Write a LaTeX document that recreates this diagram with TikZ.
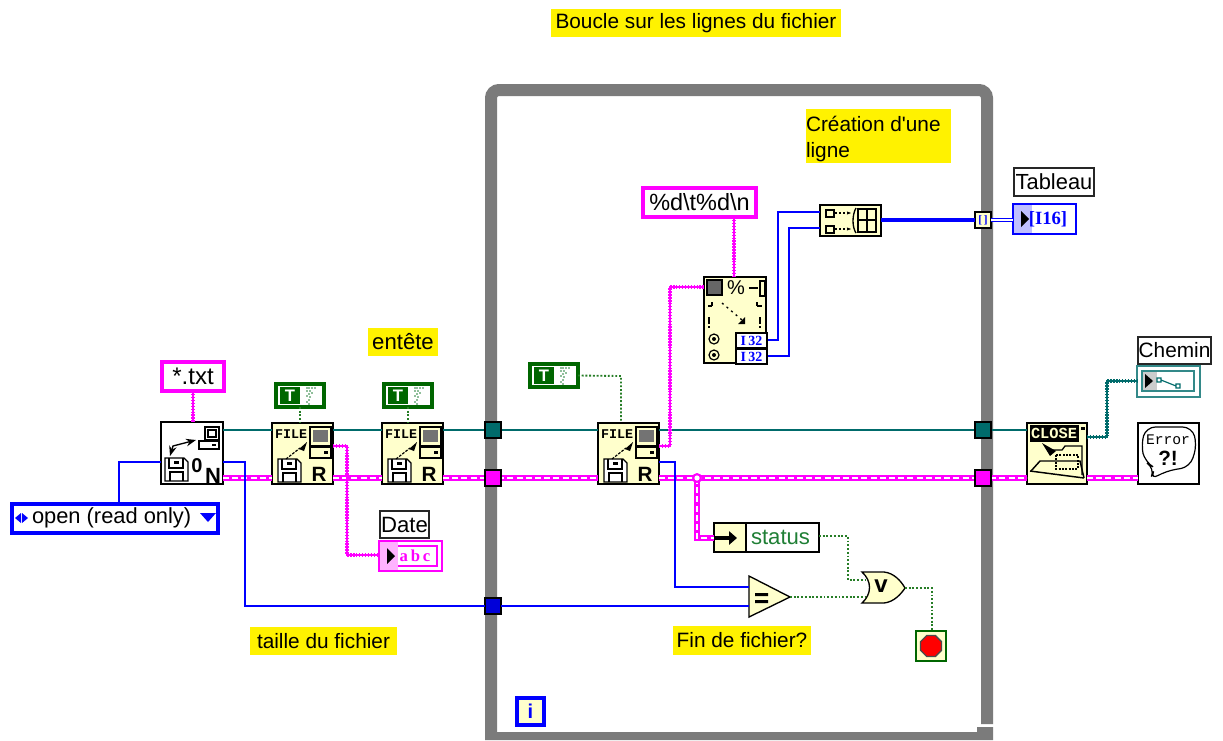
\documentclass[tikz,border=0pt]{standalone}
\usepackage{fontspec}
\setmainfont{Liberation Sans}[Ligatures=TeXOff]
\newfontfamily\serifb{Liberation Serif}
\newfontfamily\monob{Liberation Mono}
\usetikzlibrary{fit,calc,arrows.meta,shapes.geometric}
\definecolor{cream}{HTML}{FFFFCC}
\definecolor{lvteal}{HTML}{006B6B}
\definecolor{lvgreen}{HTML}{006600}
\definecolor{txtgreen}{HTML}{1F7F35}
\definecolor{lvgrey}{HTML}{7B7B7B}
\definecolor{lvmag}{RGB}{255,0,255}
\definecolor{lvblue}{RGB}{0,0,255}
\newcommand{\lbl}{\fontsize{15.6}{19.5}\selectfont}
\tikzset{
  box/.style={inner sep=0pt,outer sep=0pt},
  vi/.style={box,draw=black,line width=1.6pt,fill=cream},
  viw/.style={box,draw=black,line width=1.6pt,fill=white},
  comment/.style={box,fill=yellow},
  caption/.style={box,draw=black!85,line width=1.2pt,fill=white},
  strconst/.style={box,draw=lvmag,line width=3pt,fill=white},
  boolconst/.style={box,draw=lvgreen,line width=3pt,fill=white},
  tun/.style={box,draw=black,line width=1.2pt},
  wteal/.style={draw=lvteal,line width=1.2pt},
  wblue/.style={draw=lvblue,line width=1.4pt},
  wbluethick/.style={draw=lvblue,line width=2.8pt},
  wbluedbl/.style={draw=lvblue,line width=3.2pt,postaction={draw=white,line width=1.1pt}},
  wdot/.style={draw=lvgreen!85!white,line width=1.4pt,dash pattern=on 1.4pt off 1.4pt},
  wstr/.style={draw=lvmag,line width=2.7pt,dash pattern=on 1.1pt off 1.1pt,postaction={draw=lvmag,line width=1.5pt,solid}},
  wtealw/.style={draw=lvteal,line width=2.4pt,dash pattern=on 1.1pt off 1.1pt,postaction={draw=lvteal,line width=1.2pt,solid}},
  wclu/.style={draw=lvmag,line width=4.6pt,postaction={draw=white,line width=1.3pt,dash pattern=on 4.5pt off 2.4pt}},
  glyph/.style={draw=black,line width=.9pt,fill=none},
  floppy/.pic={
    \draw[glyph,fill=white] (0,0) -- (19,0) -- (23,4) -- (23,23) -- (0,23) -- cycle;
    \draw[glyph] (4,0) -- (4,10) -- (18,10) -- (18,0);
    \fill (9,3) rectangle (14,6);
    \draw[glyph] (5,23) -- (5,14) -- (18,14) -- (18,23);
  },
  computer/.pic={
    \draw[glyph] (0,0) rectangle (21,19);
    \fill[black!55] (3,3) rectangle (18,15);
    \draw[glyph] (0,20) rectangle (21,31);
    \fill (14,24) rectangle (18,27);
  },
  readicon/.pic={
    \node[box,font=\monob\bfseries\fontsize{10}{10}\selectfont] (-f) at (19,11) {FILE};
    \path (6,36) pic {floppy};
    \path (38,4) pic {computer};
    \draw[line width=.9pt,dash pattern=on 2pt off 1pt] (14,36) -- (28,25);
    \fill (27,26) -- (35,19) -- (32,28) -- cycle;
    \node[box,font=\bfseries\fontsize{15.5}{16}\selectfont] (-r) at (47,51) {R};
  }
}
\begin{document}
\begin{tikzpicture}[x=.75pt,y=-.75pt]
\useasboundingbox (0,0) rectangle (1223,740);
% rails
\coordinate (rT) at (0,430);
\coordinate (rP) at (0,478);
% loop
\draw[lvgrey,line width=9pt,rounded corners=6pt] (491,738) -- (491,90) -- (987,90) -- (987,724);
\fill[lvgrey] (485,732) rectangle (977,740) (977,727) rectangle (993,740);
% comments
\node[comment,fit={(551,9)(841,37)},label={[font=\lbl]center:Boucle sur les lignes du fichier}] (c1) {};
\node[comment,fit={(806,109)(951,163)}] (c2) {};
\node[box,font=\lbl,align=left,anchor=north west] (c2t) at (806,116) {Création d'une\\ligne};
\node[comment,fit={(368,328)(438,356)},label={[font=\fontsize{16.6}{20}\selectfont]center:entête}] (c3) {};
\node[comment,fit={(250,627)(397,655)},label={[font=\lbl]center:taille du fichier}] (c4) {};
\node[comment,fit={(673,626)(811,655)},label={[font=\lbl]center:Fin de fichier?}] (c5) {};
% constants
\node[strconst,fit={(162,362)(224,391)},label={[font=\fontsize{18}{20}\selectfont]center:*.txt}] (txt) {};
\node[box,draw=lvblue,line width=3pt,fill=white,fit={(12,504)(218,533)}] (enum) {};
\node[box,font=\fontsize{16.4}{19}\selectfont,anchor=west] (enumt) at (32,518) {open (read only)};
\fill[lvblue] (15,518) -- (21,513) -- (21,523) -- cycle (28,518) -- (22,513) -- (22,523) -- cycle;
\fill[lvblue] (200,513) -- (216,513) -- (208,522) -- cycle;
\foreach \n/\xa/\ya in {ta/276/384,tb/384/384,tc/530/364}{
  \node[boolconst,fit={(\xa,\ya)($(\xa,\ya)+(48,23)$)}] (\n) {};
  \fill[lvgreen] ($(\xa,\ya)+(4,3)$) rectangle ($(\xa,\ya)+(24,20)$);
  \node[box,text=white,font=\bfseries\fontsize{12.5}{13}\selectfont] at ($(\xa,\ya)+(14,11.5)$) {T};
  \foreach \dx/\dy in {31/4,33/4,36/4,39/4,31/7,34/7,36/9,33/10,31/12,34/13,33/16,31/18,33/20}
    \fill[txtgreen] ($(\xa,\ya)+(\dx,\dy)$) circle[radius=.9];
}
\node[strconst,line width=3.6pt,fit={(643,188)(756,217)},label={[font=\fontsize{17.6}{20}\selectfont]center:\%d\textbackslash t\%d\textbackslash n}] (fmt) {};
% function nodes
\node[viw,fit={(161,422)(223,484)}] (open) {};
\node[vi,fit={(272,423)(333,484)}] (r1) {};
\node[vi,fit={(382,423)(443,484)}] (r2) {};
\node[vi,fit={(598,423)(659,484)}] (r3) {};
\node[vi,fit={(704,277)(766,363)}] (scan) {};
\node[vi,fit={(820,205)(881,236)}] (build) {};
\node[vi,fit={(1027,423)(1087,484)}] (close) {};
\node[viw,fit={(1138,423)(1199,484)}] (err) {};
% wires
\coordinate (e1) at (119,462);
\draw[wblue] (open.west |- e1) -| (enum.north -| e1);
\draw[wstr] (txt.south) -- (txt.south |- open.north);
\draw[wteal] (open.east |- rT) -- (r1.west |- rT);
\draw[wteal] (r1.east |- rT) -- (r2.west |- rT);
\draw[wteal] (r2.east |- rT) -- (r3.west |- rT);
\draw[wteal] (r3.east |- rT) -- (close.west |- rT);
\draw[wclu] (open.east |- rP) -- (r1.west |- rP);
\draw[wclu] (r1.east |- rP) -- (r2.west |- rP);
\draw[wclu] (r2.east |- rP) -- (r3.west |- rP);
\draw[wclu] (r3.east |- rP) -- (close.west |- rP);
\draw[wclu] (close.east |- rP) -- (err.west |- rP);
% tunnels
\node[tun,fill=lvteal,fit={(485,422)(501,438)}] (tl) {};
\node[tun,fill=lvmag,fit={(485,470)(501,486)}] (pl) {};
\node[tun,fill=lvblue!85!black,fit={(485,598)(501,614)}] (bl) {};
\node[tun,fill=lvteal,fit={(975,422)(991,438)}] (tr) {};
\node[tun,fill=lvmag,fit={(975,470)(991,486)}] (pr) {};
\node[tun,fill=cream,fit={(975,212)(991,228)}] (ar) {};
\node[box,text=lvblue,font=\serifb\bfseries\fontsize{8.5}{8}\selectfont] at (ar.center) {[\,]};
% indicators
\node[caption,fit={(380,511)(429,538)},label={[font=\fontsize{16.6}{19}\selectfont]center:Date}] (dl) {};
\node[box,draw=lvmag,line width=1.2pt,fill=white,fit={(379,541)(442,571)}] (di) {};
\draw[lvmag,line width=1.2pt] (384,546) rectangle (437,566);
\fill[lvmag!30] (380,542) rectangle (398,570);
\node[box,text=lvmag,font=\serifb\bfseries\fontsize{12.5}{12}\selectfont] (dit) at (415,556) {a\,b\,c};
\fill[black] (387,548) -- (395,556) -- (387,564) -- cycle;
\node[caption,fit={(1014,168)(1094,196)},label={[font=\fontsize{16.4}{19}\selectfont]center:Tableau}] (tl2) {};
\node[box,draw=lvblue,line width=1.2pt,fill=white,fit={(1013,204)(1076,234)}] (ti) {};
\fill[lvblue!25] (1014,205) rectangle (1032,233);
\node[box,text=lvblue,font=\serifb\bfseries\fontsize{14}{12}\selectfont] (tit) at (1048,219) {[I16]};
\fill[black] (1021,211) -- (1029,219) -- (1021,227) -- cycle;
\node[caption,fit={(1138,337)(1211,364)},label={[font=\lbl]center:Chemin}] (cl) {};
\node[box,draw=lvteal!80,line width=1.2pt,fill=white,fit={(1137,366)(1200,397)}] (ci) {};
\draw[lvteal!80,line width=1.2pt] (1142,371) rectangle (1194,391);
\fill[black!20] (1143,372) rectangle (1157,390);
\fill[black] (1145,374) -- (1153,381) -- (1145,388) -- cycle;
\draw[lvteal,line width=.9pt] (1157,378) rectangle (1161,382) (1161,380) -- (1176,386) (1176,384) rectangle (1180,388);
% status
\node[box,draw=black,line width=1.4pt,fill=white,fit={(714,523)(819,552)}] (st) {};
\fill[cream] (715,524) rectangle (746,551);
\draw[black,line width=1.2pt] (746,523) -- (746,552);
\node[box,text=txtgreen,font=\fontsize{16.6}{19}\selectfont,anchor=west] (stt) at (751,537) {status};
% eq, or, stop, iter
\node[box,fit={(749,577)(790,617)}] (eq) {};
\draw[fill=cream,draw=black,line width=1pt] (749,576) -- (790,597) -- (749,617) -- cycle;
\fill (755,593) rectangle (768,596) (755,600) rectangle (768,603);
\node[box,fit={(862,572)(905,603)}] (orr) {};
\draw[fill=cream,draw=black,line width=1pt] (862,572) -- (884,572) .. controls (894,573) and (901,581) .. (905,588) .. controls (901,594) and (894,602) .. (884,603) -- (862,603) .. controls (872,594) and (872,581) .. (862,572) -- cycle;
\node[box,font=\bfseries\fontsize{18}{18}\selectfont] (ort) at (881,586) {v};
\node[box,draw=lvgreen,line width=1.5pt,fill=cream,fit={(916,631)(946,661)}] (stop) {};
\node[regular polygon,regular polygon sides=8,draw=black!70,fill=red,line width=1pt,inner sep=0pt,minimum size=17pt] (stopc) at (931,646) {};
\node[box,draw=lvblue,line width=3pt,fill=cream,fit={(517,698)(544,725)}] (iter) {};
\node[box,text=lvblue,font=\bfseries\fontsize{15}{15}\selectfont] (itert) at (iter.center) {i};
% wires 2
\coordinate (sb) at (697,538);
\draw[wclu] (sb |- rP) -- (sb) -- (st.west |- sb);
\draw[black,line width=2.8pt,-{Triangle[length=6pt,width=10pt]}] (714,538) -- (737,538);
\fill[lvmag] (697,478) circle[radius=5];
\fill[white] (697,478) circle[radius=2.6];
\draw[wblue] (open.east |- 0,462) -- (245,462) -- (245,606) -- (bl.west);
\draw[wblue] (bl.east) -- (eq.west |- bl);
\draw[wblue] (r3.east |- 0,462) -- (675,462) -- (675,587) -- (eq.west |- 0,587);
\draw[wdot] (ta.south) -- (ta.south |- r1.north);
\draw[wdot] (tb.south) -- (tb.south |- r2.north);
\draw[wdot] (tc.east) -- (621,376) -- (621,422);
\draw[wstr] (r1.east |- 0,446) -- (347,446) -- (347,555) -- (di.west |- 0,555);
\draw[wstr] (r3.east |- 0,446) -- (670,446) -- (670,287) -- (scan.west |- 0,287);
\draw[wstr] (fmt.south -| 734,0) -- (734,276);
\draw[wblue] (scan.east |- 0,340) -- (778,340) -- (778,212) -- (build.west |- 0,212);
\draw[wblue] (scan.east |- 0,356) -- (789,356) -- (789,228) -- (build.west |- 0,228);
\draw[wbluethick] (build.east |- ar) -- (ar.west);
\draw[wbluedbl] (ar.east) -- (ti.west |- ar);
\draw[wtealw] (close.east |- 0,437) -- (1107,437) -- (1107,381) -- (ci.west |- 0,381);
\draw[wdot] (st.east |- 0,536) -- (848,536) -- (848,580) -- (866,580);
\draw[wdot] (790,597) -- (866,597);
\draw[wdot] (905,588) -- (932,588) -- (stop.north -| 932,0);
% icons: open
\path (165,458) pic {floppy};
\draw[glyph] (205,427) rectangle (219,440);
\draw[glyph] (208,430) rectangle (216,437);
\draw[glyph] (199,441) rectangle (219,449);
\fill (212,444) rectangle (216,446);
\draw[line width=1pt,<->,>=Stealth] (170,456) -- (173,446) -- (196,440);
\node[box,font=\bfseries\fontsize{15}{15}\selectfont] (o0) at (197,466) {0};
\node[box,font=\bfseries\fontsize{16.5}{17}\selectfont] (oN) at (213,476) {N};
% icons: read
\path (272,423) pic (ra) {readicon};
\path (382,423) pic (rb) {readicon};
\path (598,423) pic (rc) {readicon};
% icons: scan
\fill[black!60] (707,280) rectangle (722,295);
\draw[black,line width=.9pt] (707,280) rectangle (722,295);
\node[box,font=\fontsize{15}{15}\selectfont] (sp) at (736,288) {\%};
\draw[line width=1pt] (749,288) -- (758,288) (760,281) rectangle (765,296);
\foreach \yy in {306}{
 \draw[line width=1pt] (708,\yy) -- (712,\yy) (712,\yy-4) -- (712,\yy);
 \draw[line width=1pt] (757,\yy) -- (762,\yy) (757,\yy-4) -- (757,\yy);
}
\draw[line width=1pt,dash pattern=on 1.5pt off 3pt] (722,303) -- (742,320);
\fill (745,324) -- (738,324) -- (745,317) -- cycle;
\foreach \xx in {709,760}\draw[line width=1.1pt] (\xx,317) -- (\xx,324) (\xx,326) -- (\xx,328);
\foreach \yy in {339,355}{\draw[line width=.9pt] (714,\yy) circle[radius=5]; \fill (714,\yy) circle[radius=2];}
\foreach \yy/\nm in {333/ia,349/ib}{
  \node[box,draw=black,line width=1.2pt,fill=white,fit={(736,\yy)(767,\yy+15)},label={[text=lvblue,font=\serifb\bfseries\fontsize{10.5}{10}\selectfont]center:I\,32}] (\nm) {};
}
% icons: build
\draw[line width=1pt] (826,210) rectangle (834,217) (826,226) rectangle (834,233);
\draw[line width=1pt,dash pattern=on 1.5pt off 1.5pt,-{Stealth[length=3pt]}] (835,213) -- (851,213);
\draw[line width=1pt,dash pattern=on 1.5pt off 1.5pt,-{Stealth[length=3pt]}] (835,229) -- (851,229);
\draw[line width=1pt] (856,208) .. controls (852,215) and (852,227) .. (856,233);
\draw[line width=1.1pt] (858,209) rectangle (876,232) (867,209) -- (867,232) (858,220) -- (876,220);
% icons: close
\fill[black] (1030,425) rectangle (1079,442);
\fill[black] (1081,427) rectangle (1085,430);
\node[box,text=cream,font=\monob\bfseries\fontsize{11.5}{12}\selectfont] (clt) at (1054,433.5) {CLOSE};
\draw[line width=1.1pt] (1031,471) -- (1040,461) -- (1080,461) -- (1084,478);
\draw[line width=1.1pt] (1030,471) -- (1084,478);
\draw[line width=1pt] (1050,450) -- (1062,450) -- (1065,446) -- (1082,446) -- (1082,475);
\fill (1042,443) -- (1056,451) -- (1050,456) -- cycle;
\draw[line width=.8pt,dash pattern=on 1.5pt off 1pt] (1056,455) rectangle (1078,469);
% icons: error
\draw[line width=.9pt,rounded corners=7pt] (1146,427) -- (1192,427) -- (1197,445) -- (1190,467) -- (1166,471) -- (1150,480) -- (1155,468) -- (1145,462) -- (1141,445) -- cycle;
\node[box,font=\monob\fontsize{11}{11}\selectfont] (e1t) at (1168,440) {Error};
\node[box,font=\bfseries\fontsize{15.5}{15}\selectfont] (e2t) at (1168,458) {?!};
\end{tikzpicture}
\end{document}
